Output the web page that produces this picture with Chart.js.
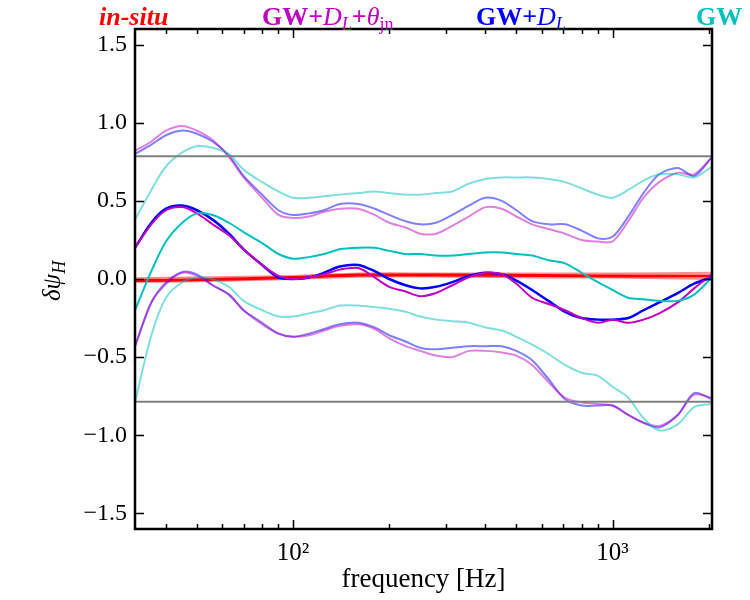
<!DOCTYPE html>
<html>
<head>
<meta charset="utf-8">
<script src="https://cdn.jsdelivr.net/npm/chart.js@4.4.0/dist/chart.umd.min.js"></script>
<style>
  html,body{margin:0;padding:0;background:#fff;}
  #wrap{width:750px;height:600px;}
</style>
</head>
<body>
<div id="wrap"><canvas id="c" width="750" height="600"></canvas></div>
<script>
// frequencias (Hz) comuns a todas as curvas
const freqs=[32,36,40,45,50,56,63,70,80,90,100,112,125,140,160,180,200,225,250,280,315,355,400,450,500,560,630,710,800,900,1000,1120,1250,1400,1600,1800,2048];

// GW + D_L + theta_jn (magenta)
const magUpper=[0.82,0.88,0.95,0.98,0.95,0.89,0.78,0.65,0.52,0.41,0.39,0.40,0.43,0.45,0.45,0.41,0.36,0.33,0.29,0.29,0.34,0.40,0.46,0.45,0.40,0.35,0.32,0.29,0.25,0.24,0.24,0.37,0.52,0.62,0.68,0.67,0.78];
const magMedian=[0.20,0.35,0.44,0.46,0.42,0.35,0.28,0.19,0.09,0.02,0.00,0.01,0.03,0.06,0.07,0.01,-0.05,-0.08,-0.11,-0.09,-0.04,0.01,0.04,0.03,-0.03,-0.12,-0.16,-0.20,-0.25,-0.28,-0.26,-0.28,-0.26,-0.22,-0.15,-0.06,0.03];
const magLower=[-0.43,-0.15,-0.02,0.04,0.02,-0.04,-0.10,-0.20,-0.29,-0.35,-0.37,-0.36,-0.33,-0.30,-0.29,-0.32,-0.38,-0.43,-0.46,-0.49,-0.50,-0.46,-0.46,-0.47,-0.49,-0.55,-0.66,-0.76,-0.79,-0.80,-0.81,-0.87,-0.92,-0.94,-0.87,-0.74,-0.76];

// GW + D_L (azul)
const blueUpper=[0.80,0.86,0.92,0.95,0.93,0.88,0.79,0.66,0.54,0.44,0.41,0.42,0.44,0.48,0.48,0.45,0.41,0.37,0.35,0.36,0.41,0.47,0.52,0.50,0.44,0.37,0.35,0.35,0.31,0.26,0.27,0.40,0.55,0.67,0.71,0.66,0.78];
const blueMedian=[0.20,0.36,0.45,0.47,0.44,0.38,0.29,0.19,0.09,0.01,0.00,0.01,0.04,0.08,0.09,0.05,0.00,-0.04,-0.06,-0.05,-0.02,0.02,0.04,0.03,-0.01,-0.07,-0.14,-0.21,-0.25,-0.26,-0.26,-0.25,-0.20,-0.15,-0.09,-0.03,0.01];
const blueLower=[-0.43,-0.15,-0.03,0.045,0.03,-0.04,-0.10,-0.20,-0.28,-0.35,-0.37,-0.35,-0.32,-0.29,-0.28,-0.31,-0.36,-0.40,-0.44,-0.45,-0.44,-0.43,-0.43,-0.43,-0.46,-0.52,-0.64,-0.77,-0.81,-0.81,-0.81,-0.87,-0.92,-0.95,-0.87,-0.73,-0.77];

// GW (ciano)
const cyanUpper=[0.38,0.57,0.72,0.81,0.85,0.84,0.80,0.70,0.62,0.56,0.52,0.52,0.53,0.54,0.55,0.56,0.55,0.54,0.54,0.55,0.56,0.61,0.64,0.65,0.65,0.65,0.64,0.62,0.58,0.54,0.52,0.57,0.63,0.67,0.67,0.65,0.72];
const cyanMedian=[-0.20,0.05,0.24,0.36,0.42,0.41,0.36,0.30,0.23,0.16,0.13,0.14,0.16,0.19,0.20,0.20,0.18,0.16,0.16,0.15,0.15,0.16,0.17,0.17,0.16,0.15,0.12,0.10,0.04,-0.02,-0.07,-0.12,-0.13,-0.14,-0.14,-0.10,0.01];
const cyanLower=[-0.79,-0.36,-0.12,-0.02,0.01,0.00,-0.05,-0.14,-0.20,-0.24,-0.24,-0.22,-0.20,-0.17,-0.17,-0.18,-0.19,-0.21,-0.24,-0.26,-0.27,-0.28,-0.31,-0.33,-0.37,-0.42,-0.48,-0.55,-0.60,-0.62,-0.69,-0.76,-0.89,-0.97,-0.93,-0.82,-0.80];

// in-situ (vermelho)
const redFreqs=[32,50,100,160,300,600,1000,2048];
const redUpper=[0.005,0.01,0.02,0.035,0.035,0.035,0.035,0.04];
const redMedian=[-0.01,-0.005,0.01,0.025,0.025,0.022,0.02,0.02];
const redLower=[-0.02,-0.015,0.0,0.015,0.015,0.01,0.01,0.0];

// faixa de referencia (+/- pi/4)
const refLevel=[0.785,-0.785];

const xMajorTicks=[100,1000];
const xMajorLabels=["10²","10³"];
const xMinorTicks=[40,50,60,70,80,90,200,300,400,500,600,700,800,900,2000];
const yTicks=[-1.5,-1.0,-0.5,0.0,0.5,1.0,1.5];
const yTickLabels=["−1.5","−1.0","−0.5","0.0","0.5","1.0","1.5"];

const SERIF='"Liberation Serif","DejaVu Serif",serif';

function pts(xs,ys){ return xs.map((x,i)=>({x,y:ys[i]})); }

function line(label,xs,ys,color,width){
  return {
    label,
    data:pts(xs,ys),
    borderColor:color,
    borderWidth:width,
    pointRadius:0,
    tension:0.3,
    fill:false
  };
}

const datasets=[
  line("ref+",[32,2048],[refLevel[0],refLevel[0]],"#808080",2),
  line("ref-",[32,2048],[refLevel[1],refLevel[1]],"#808080",2),
  line("GW upper",freqs,cyanUpper,"rgba(0,191,191,.5)",2),
  line("GW lower",freqs,cyanLower,"rgba(0,191,191,.5)",2),
  line("GW",freqs,cyanMedian,"rgb(0,191,191)",2),
  line("GW+DL+th upper",freqs,magUpper,"rgba(191,0,191,.5)",2),
  line("GW+DL+th lower",freqs,magLower,"rgba(191,0,191,.5)",2),
  line("GW+DL upper",freqs,blueUpper,"rgba(0,0,255,.5)",2),
  line("GW+DL lower",freqs,blueLower,"rgba(0,0,255,.5)",2),
  line("GW+DL+th",freqs,magMedian,"rgb(191,0,191)",2),
  line("GW+DL",freqs,blueMedian,"rgb(0,0,255)",2.5),
  line("in-situ upper",redFreqs,redUpper,"rgba(255,0,0,.45)",2),
  line("in-situ lower",redFreqs,redLower,"rgba(255,0,0,.45)",2),
  line("in-situ",redFreqs,redMedian,"rgb(255,0,0)",3)
];

// desenha texto com pedaços (subscritos etc.)
function richText(ctx,x,y,parts,color){
  ctx.save();
  ctx.fillStyle=color;
  ctx.textBaseline="alphabetic";
  ctx.textAlign="left";
  let cx=x;
  for(const p of parts){
    ctx.font=p.f;
    ctx.fillText(p.t,cx,y+(p.dy||0));
    cx+=ctx.measureText(p.t).width;
  }
  ctx.restore();
}

const framePlugin={
  id:"frame",
  afterDraw(chart){
    const {ctx,chartArea:a,scales:{x,y}}=chart;
    ctx.save();
    ctx.strokeStyle="#000";
    ctx.lineWidth=1.5;
    ctx.beginPath();
    // ticks x (para dentro, em cima e em baixo)
    xMajorTicks.forEach(v=>{
      const px=Math.round(x.getPixelForValue(v))+0.5;
      ctx.moveTo(px,a.bottom); ctx.lineTo(px,a.bottom-9);
      ctx.moveTo(px,a.top); ctx.lineTo(px,a.top+9);
    });
    xMinorTicks.forEach(v=>{
      const px=Math.round(x.getPixelForValue(v))+0.5;
      ctx.moveTo(px,a.bottom); ctx.lineTo(px,a.bottom-5);
      ctx.moveTo(px,a.top); ctx.lineTo(px,a.top+5);
    });
    yTicks.forEach(v=>{
      const py=Math.round(y.getPixelForValue(v))+0.5;
      ctx.moveTo(a.left,py); ctx.lineTo(a.left+9,py);
      ctx.moveTo(a.right,py); ctx.lineTo(a.right-9,py);
    });
    ctx.stroke();
    ctx.lineWidth=2.5;
    ctx.strokeRect(a.left,a.top,a.right-a.left,a.bottom-a.top);
    ctx.restore();

    // titulos coloridos em cima
    const sub="18px "+SERIF;
    const bold="bold 26px "+SERIF, ital="italic 26px "+SERIF, itSub="italic 18px "+SERIF;
    richText(ctx,99,25,[{t:"in-situ",f:"italic bold 26px "+SERIF}],"#ff0000");
    richText(ctx,262,25,[
      {t:"GW+",f:bold},{t:"D",f:ital},{t:"L",f:itSub,dy:5},{t:"+",f:bold},
      {t:"θ",f:ital},{t:"jn",f:sub,dy:5}
    ],"rgb(191,0,191)");
    richText(ctx,476,25,[
      {t:"GW+",f:bold},{t:"D",f:ital},{t:"L",f:itSub,dy:5}
    ],"#0000ff");
    richText(ctx,696,25,[{t:"GW",f:bold}],"rgb(0,191,191)");

    // rotulo do eixo y
    ctx.save();
    ctx.translate(60,279);
    ctx.rotate(-Math.PI/2);
    richText(ctx,-22,0,[
      {t:"δψ",f:"italic 25px "+SERIF},{t:"H",f:itSub,dy:5}
    ],"#000");
    ctx.restore();
  }
};

new Chart(document.getElementById("c"),{
  type:"line",
  data:{datasets},
  options:{
    responsive:false,
    animation:false,
    layout:{padding:{top:29,right:38,left:0,bottom:0}},
    plugins:{legend:{display:false},tooltip:{enabled:false}},
    scales:{
      x:{
        type:"logarithmic",
        min:32,max:2048,
        grid:{display:false,drawTicks:false},
        border:{display:false},
        afterBuildTicks:(s)=>{ s.ticks=xMajorTicks.map(v=>({value:v})); },
        afterFit:(s)=>{ s.height=71; },
        ticks:{
          padding:9,
          color:"#000",
          font:{family:SERIF,size:25},
          maxRotation:0,
          callback:(v)=>{ const i=xMajorTicks.indexOf(v); return i>=0?xMajorLabels[i]:""; }
        },
        title:{display:true,text:"frequency [Hz]",color:"#000",font:{family:SERIF,size:27},padding:{top:0}}
      },
      y:{
        min:-1.6,max:1.6,
        grid:{display:false,drawTicks:false},
        border:{display:false},
        afterBuildTicks:(s)=>{ s.ticks=yTicks.map(v=>({value:v})); },
        afterFit:(s)=>{ s.width=135; },
        ticks:{
          padding:8,
          color:"#000",
          font:{family:SERIF,size:24},
          callback:(v)=>{ const i=yTicks.findIndex(t=>Math.abs(t-v)<1e-9); return i>=0?yTickLabels[i]:""; }
        }
      }
    }
  },
  plugins:[framePlugin]
});
</script>
</body>
</html>
